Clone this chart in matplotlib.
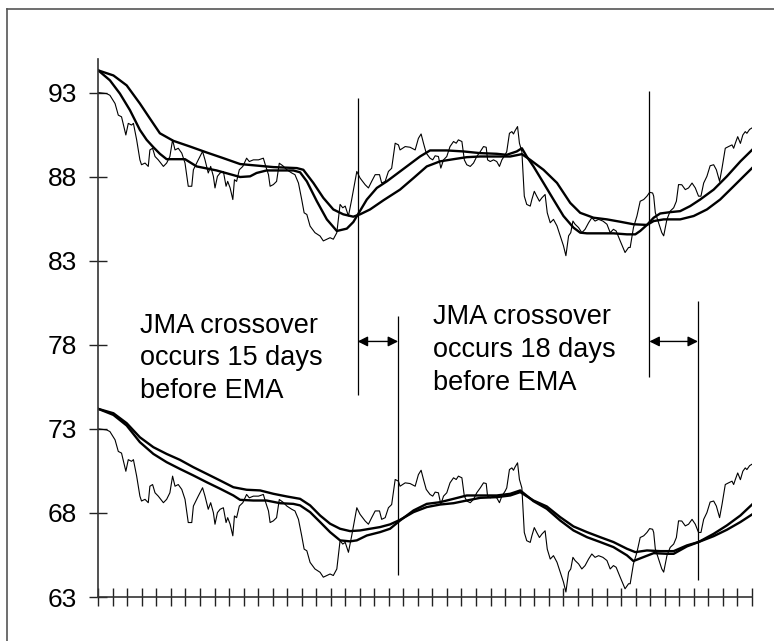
import numpy as np
import matplotlib
matplotlib.use('Agg')
import matplotlib.pyplot as plt
from matplotlib.lines import Line2D

plt.rcParams['font.family'] = ['Liberation Sans', 'DejaVu Sans']

# ---- data (x = trading day, y = price) ----
price_day = [0.0, 3.1, 4.3, 6.2, 7.4, 8.6, 10.2, 11.1, 12.3, 13.0, 14.2, 15.4, 16.0, 17.3, 18.5,
             19.1, 20.1, 21.0, 22.2, 24.1, 25.3, 26.5, 27.5, 28.4, 29.6, 30.9, 32.1, 33.3, 34.6,
             35.2, 37.0, 38.6, 39.5, 40.7, 41.6, 42.6, 43.2, 44.1, 45.1, 46.3, 47.3, 47.9, 48.8,
             49.8, 50.4, 51.2, 52.2, 53.5, 54.9, 55.9, 57.4, 59.3, 61.1, 62.0, 63.0, 63.6, 64.8,
             66.0, 67.0, 68.3, 69.8, 71.6, 72.8, 74.1, 75.3, 76.2, 77.2, 78.4, 80.2, 82.1, 83.3,
             84.6, 85.8, 87.0, 88.3, 89.5, 90.5, 91.4, 92.6, 93.8, 94.7, 95.7, 96.9, 98.8, 100.0,
             101.2, 102.5, 104.1, 104.9, 106.2, 107.4, 108.6, 109.9, 111.1, 111.7, 113.6, 115.4,
             117.3, 118.5, 119.5, 120.4, 121.4, 122.8, 123.8, 124.7, 125.9, 126.8, 127.8, 129.0,
             130.2, 131.5, 132.5, 133.3, 134.6, 135.5, 136.4, 137.7, 138.9, 140.1, 141.4, 142.6,
             143.6, 144.1, 145.1, 146.3, 147.5, 148.5, 149.4, 150.6, 151.2, 152.2, 153.1, 153.7,
             154.3, 155.2, 155.9, 156.8, 157.7, 158.6, 159.9, 160.5, 161.4, 162.3, 163.3, 164.2,
             165.4, 166.2, 167.3, 168.5, 169.8, 171.0, 172.2, 173.1, 174.1, 174.9, 175.7, 176.5,
             177.8, 179.0, 180.2, 181.5, 182.7, 183.9, 185.2, 186.8, 188.3, 189.5, 190.7, 191.7,
             193.2, 195.0, 196.3, 196.9, 198.1, 199.4, 200.6, 201.9, 203.1, 204.1, 205.2, 205.6,
             206.2, 207.4, 208.6, 209.3, 210.5, 211.7, 213.0, 214.0, 214.8, 216.0, 217.3, 218.5,
             219.8, 221.0, 222.2, 223.1, 224.1, 225.3, 226.5, 227.8, 228.8, 230.0, 230.9, 232.1,
             233.3, 234.6, 235.2, 235.8, 236.7, 237.7, 238.6, 239.5, 240.1, 241.1, 242.0]
price = [93.00, 92.94, 92.84, 92.35, 91.66, 91.56, 90.48, 91.17, 91.07, 91.17, 90.19, 89.00, 88.71,
         88.81, 88.61, 89.59, 89.69, 89.20, 89.00, 88.61, 88.81, 89.20, 90.19, 89.59, 89.69, 89.40,
         88.81, 87.43, 87.43, 88.41, 89.00, 89.50, 89.00, 88.22, 88.61, 88.02, 87.33, 88.02, 88.22,
         88.31, 87.43, 87.72, 87.33, 86.64, 87.82, 87.72, 88.41, 88.61, 89.10, 88.90, 89.00, 89.00,
         89.10, 88.61, 88.12, 87.43, 87.53, 87.72, 88.80, 88.65, 88.41, 88.22, 88.12, 87.62, 86.64,
         85.85, 85.75, 85.06, 84.67, 84.47, 84.18, 84.28, 84.37, 84.28, 84.67, 86.35, 86.15, 86.25,
         85.66, 86.64, 87.43, 88.31, 87.92, 87.52, 87.33, 87.72, 88.12, 88.12, 87.62, 87.72, 88.31,
         88.50, 89.99, 89.89, 89.59, 89.79, 89.75, 89.59, 90.28, 90.54, 89.98, 89.40, 89.10, 89.00,
         89.24, 89.20, 88.51, 89.00, 89.20, 89.79, 90.09, 89.99, 90.19, 90.09, 89.00, 88.71, 88.61,
         88.81, 89.20, 89.49, 89.79, 89.75, 89.00, 88.90, 89.00, 88.90, 88.61, 89.00, 89.30, 89.49,
         90.58, 90.68, 90.54, 90.74, 90.98, 89.99, 89.49, 86.84, 86.35, 86.25, 86.64, 87.13, 86.84,
         86.54, 86.74, 86.94, 85.85, 85.26, 85.46, 85.07, 84.48, 83.89, 83.30, 84.48, 84.67, 85.36,
         85.17, 84.97, 84.67, 84.87, 85.26, 85.56, 85.36, 85.46, 85.36, 85.17, 84.67, 84.87, 84.77,
         84.18, 83.49, 83.79, 83.79, 84.97, 85.66, 86.54, 86.64, 86.84, 87.07, 87.03, 86.84, 85.86,
         85.27, 84.67, 84.48, 85.46, 85.95, 86.15, 86.54, 87.53, 87.52, 87.23, 87.33, 87.62, 87.33,
         86.84, 86.84, 87.62, 88.02, 88.65, 88.71, 88.41, 87.72, 88.51, 89.69, 89.79, 89.89, 89.69,
         89.98, 90.38, 89.98, 90.48, 90.68, 90.58, 90.81, 90.90]

# the lower panel re-plots the same price, shifted down
ema_offset = 20.0

jma_fast_day = [0.0, 4.3, 8.0, 11.7, 15.4, 17.9, 20.4, 22.8, 25.3, 32.1, 36.4, 43.8, 52.5, 56.2, 58.6,
                62.3, 72.2, 74.7, 77.2, 80.9, 84.6, 88.3, 92.0, 94.4, 95.9, 99.4, 103.1, 106.8, 111.7,
                114.2, 119.1, 122.8, 129.0, 135.2, 141.4, 147.5, 151.2, 154.9, 156.8, 158.6, 161.1,
                164.8, 168.5, 172.2, 175.9, 178.4, 180.9, 185.8, 190.7, 195.7, 198.8, 200.6, 203.1,
                205.6, 208.0, 211.7, 215.4, 219.1, 222.8, 227.8, 232.7, 237.7, 242.0]
jma_fast = [94.32, 93.73, 92.94, 91.96, 90.78, 90.19, 89.75, 89.36, 89.04, 89.04, 88.61, 88.37, 87.98,
            88.02, 88.22, 88.37, 88.37, 88.26, 87.72, 86.54, 85.46, 84.77, 84.91, 85.30, 85.70, 86.64,
            87.33, 87.72, 88.31, 88.61, 89.20, 89.56, 89.56, 89.50, 89.40, 89.36, 89.30, 89.50, 89.69,
            89.20, 88.61, 87.63, 86.64, 85.66, 84.97, 84.67, 84.63, 84.63, 84.63, 84.57, 84.57, 84.77,
            85.13, 85.56, 85.81, 85.89, 85.95, 86.25, 86.64, 87.23, 88.02, 88.91, 89.59]

jma_slow_day = [0.0, 5.6, 10.5, 15.4, 19.1, 22.8, 27.8, 34.0, 40.1, 46.3, 52.5, 64.8, 73.5, 75.9, 79.6,
                83.3, 87.0, 90.7, 94.4, 96.9, 100.6, 105.6, 111.7, 116.7, 121.6, 126.5, 131.5, 136.4,
                141.4, 147.5, 152.5, 156.8, 159.9, 164.8, 169.8, 174.7, 178.4, 183.3, 188.3, 193.2,
                198.1, 203.1, 205.6, 209.3, 215.4, 220.4, 225.3, 230.2, 235.2, 238.9, 242.0]
jma_slow = [94.32, 94.02, 93.43, 92.35, 91.46, 90.58, 90.13, 89.79, 89.44, 89.10, 88.75, 88.57, 88.51,
            88.41, 87.63, 86.74, 86.05, 85.76, 85.62, 85.76, 86.05, 86.60, 87.23, 87.92, 88.61, 88.91,
            89.04, 89.16, 89.20, 89.20, 89.20, 89.34, 89.00, 88.41, 87.63, 86.44, 85.85, 85.56, 85.46,
            85.32, 85.17, 85.13, 85.36, 85.46, 85.46, 85.66, 86.05, 86.64, 87.43, 88.02, 88.51]

ema_fast_day = [0.0, 5.6, 10.5, 15.4, 20.4, 25.3, 30.2, 35.2, 40.1, 45.1, 50.0, 52.5, 57.4, 62.3, 67.3,
                72.2, 74.7, 78.4, 82.1, 85.8, 89.5, 93.2, 95.7, 99.4, 104.3, 108.0, 111.7, 116.7,
                121.6, 126.5, 131.5, 136.4, 141.4, 147.5, 152.5, 156.2, 161.1, 166.0, 171.0, 175.9,
                180.9, 185.8, 190.7, 195.7, 198.1, 201.9, 205.6, 210.5, 213.0, 217.9, 222.2, 227.8,
                232.7, 237.7, 242.0]
ema_fast = [74.19, 73.83, 73.20, 72.21, 71.51, 71.02, 70.62, 70.23, 69.83, 69.44, 69.04, 68.78, 68.74,
            68.74, 68.58, 68.54, 68.45, 68.05, 67.46, 66.86, 66.37, 66.31, 66.37, 66.66, 66.86, 67.06,
            67.55, 68.15, 68.54, 68.64, 68.84, 69.04, 69.04, 69.04, 69.14, 69.34, 68.70, 68.25, 67.55,
            66.96, 66.56, 66.27, 65.97, 65.48, 65.14, 65.38, 65.61, 65.57, 65.57, 66.01, 66.27, 66.76,
            67.26, 67.85, 68.50]

ema_slow_day = [0.0, 5.6, 10.5, 15.4, 20.4, 25.3, 30.2, 35.2, 40.1, 45.1, 50.0, 54.9, 59.9, 64.8, 69.8,
                74.7, 78.4, 82.1, 85.8, 89.5, 93.2, 96.9, 100.6, 104.3, 108.0, 111.7, 116.7, 121.6,
                126.5, 131.5, 136.4, 141.4, 147.5, 152.5, 156.2, 161.1, 166.0, 171.0, 175.9, 180.9,
                185.8, 190.7, 195.7, 198.8, 203.1, 208.0, 213.0, 217.9, 222.2, 227.8, 232.7, 237.7, 242.0]
ema_slow = [74.19, 73.93, 73.34, 72.50, 71.91, 71.51, 71.16, 70.72, 70.33, 69.93, 69.53, 69.38, 69.34,
            69.14, 68.98, 68.84, 68.45, 67.85, 67.36, 67.06, 66.92, 66.96, 67.06, 67.16, 67.32, 67.59,
            68.05, 68.35, 68.50, 68.58, 68.74, 68.90, 68.94, 69.04, 69.24, 68.74, 68.39, 67.75, 67.20,
            66.86, 66.56, 66.27, 65.87, 65.67, 65.77, 65.73, 65.73, 66.07, 66.27, 66.62, 67.00, 67.46,
            67.91]

# crossover days: JMA cross, EMA cross
cross_jma = [96, 204]
cross_ema = [111, 222]
notes = ['JMA crossover\noccurs 15 days\nbefore EMA', 'JMA crossover\noccurs 18 days\nbefore EMA']
yticks = [63, 68, 73, 78, 83, 88, 93]

fig = plt.figure(figsize=(7.74, 6.41), dpi=100)
ax = fig.add_axes([0.127, 0.0686, 0.8446, 0.8394])

ax.plot(price_day, price, color='black', lw=0.8)
ax.plot(jma_fast_day, jma_fast, color='black', lw=1.7)
ax.plot(jma_slow_day, jma_slow, color='black', lw=1.7)

ax.plot(price_day, np.array(price) - ema_offset, color='black', lw=0.8)
ax.plot(ema_fast_day, ema_fast, color='black', lw=1.7)
ax.plot(ema_slow_day, ema_slow, color='black', lw=1.7)

# crossover markers
ax.vlines(cross_jma[0], 75.0, 92.7, color='black', lw=0.9)
ax.vlines(cross_ema[0], 64.3, 79.7, color='black', lw=0.9)
ax.vlines(cross_jma[1], 76.1, 93.1, color='black', lw=0.9)
ax.vlines(cross_ema[1], 64.0, 80.6, color='black', lw=0.9)
for a, b in zip(cross_jma, cross_ema):
    ax.annotate('', xy=(b, 78.2), xytext=(a, 78.2),
                arrowprops=dict(arrowstyle='<|-|>', color='black', lw=1,
                                mutation_scale=15, shrinkA=0, shrinkB=0))

ax.text(15.4, 79.9, notes[0], fontsize=19.5, va='top', ha='left', linespacing=1.33)
ax.text(123.8, 80.4, notes[1], fontsize=19.5, va='top', ha='left', linespacing=1.33)

ax.set_xlim(0, 242)
ax.set_ylim(63, 95)
ax.set_yticks(yticks)
ax.set_xticks(np.linspace(0, 242, 46))
ax.set_xticklabels([])
ax.tick_params(axis='both', direction='inout', length=12.5, width=1, color='#222222')
ax.tick_params(axis='y', labelsize=19, pad=9)
for s in ['top', 'right']:
    ax.spines[s].set_visible(False)
for s in ['left', 'bottom']:
    ax.spines[s].set_color('#333333')
    ax.spines[s].set_linewidth(1.2)

# outer frame (cut off at the right and bottom edges)
fig.add_artist(Line2D([0.009, 1.0], [0.986, 0.986], color='#555555', lw=1.2))
fig.add_artist(Line2D([0.009, 0.009], [0.986, 0.0], color='#555555', lw=1.2))

fig.savefig('out.png', dpi=100)
